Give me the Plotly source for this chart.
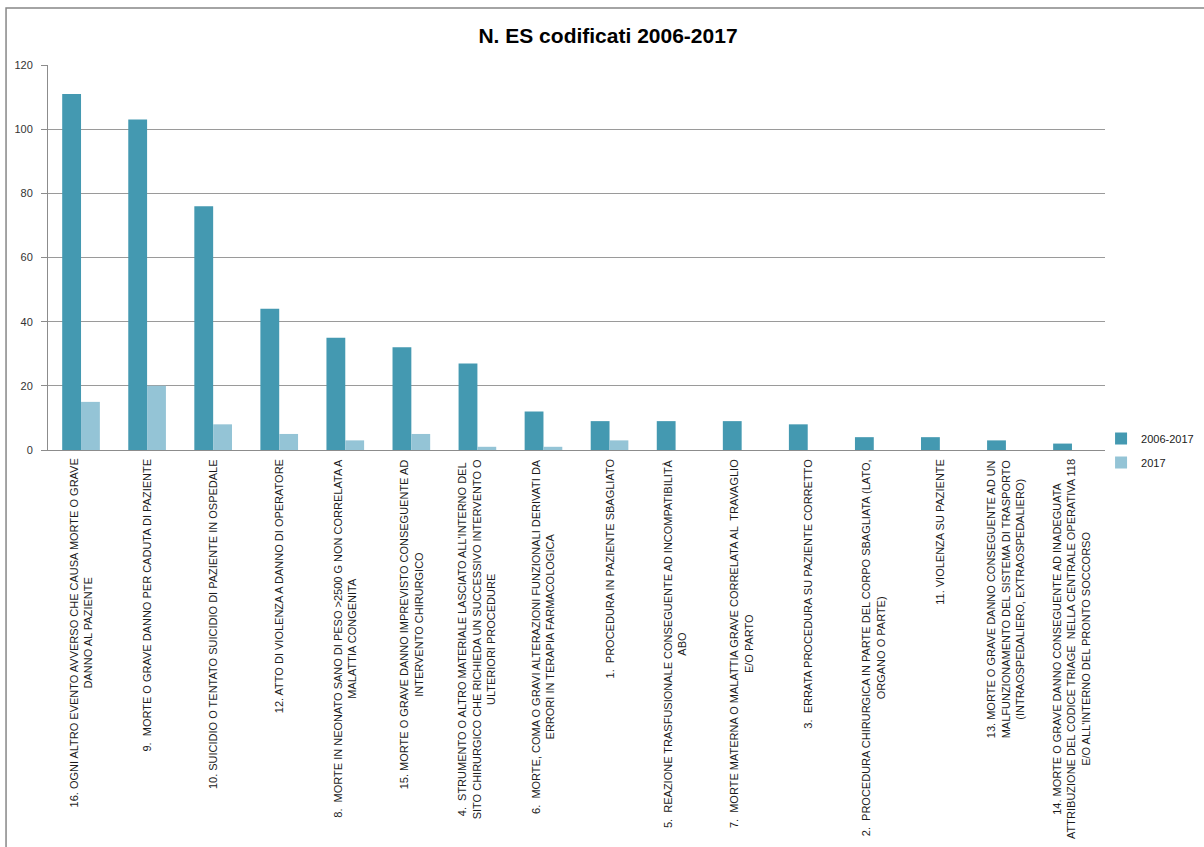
import plotly.graph_objects as go

# Event categories (sentinel events), in display order
categories = [
    "16. OGNI ALTRO EVENTO AVVERSO CHE CAUSA MORTE O GRAVE<br>DANNO AL PAZIENTE",
    "9.  MORTE O GRAVE DANNO PER CADUTA DI PAZIENTE",
    "10. SUICIDIO O TENTATO SUICIDIO DI PAZIENTE IN OSPEDALE",
    "12. ATTO DI VIOLENZA A DANNO DI OPERATORE",
    "8.  MORTE IN NEONATO SANO DI PESO >2500 G NON CORRELATA A<br>MALATTIA CONGENITA",
    "15. MORTE O GRAVE DANNO IMPREVISTO CONSEGUENTE AD<br>INTERVENTO CHIRURGICO",
    "4.  STRUMENTO O ALTRO MATERIALE LASCIATO ALL'INTERNO DEL<br>SITO CHIRURGICO CHE RICHIEDA UN SUCCESSIVO INTERVENTO O<br>ULTERIORI PROCEDURE",
    "6.  MORTE, COMA O GRAVI ALTERAZIONI FUNZIONALI DERIVATI DA<br>ERRORI IN TERAPIA FARMACOLOGICA",
    "1.  PROCEDURA IN PAZIENTE SBAGLIATO",
    "5.  REAZIONE TRASFUSIONALE CONSEGUENTE AD INCOMPATIBILITÀ<br>ABO",
    "7.  MORTE MATERNA O MALATTIA GRAVE CORRELATA AL  TRAVAGLIO<br>E/O PARTO",
    "3.  ERRATA PROCEDURA SU PAZIENTE CORRETTO",
    "2.  PROCEDURA CHIRURGICA IN PARTE DEL CORPO SBAGLIATA (LATO,<br>ORGANO O PARTE)",
    "11. VIOLENZA SU PAZIENTE",
    "13. MORTE O GRAVE DANNO CONSEGUENTE AD UN<br>MALFUNZIONAMENTO DEL SISTEMA DI TRASPORTO<br>(INTRAOSPEDALIERO, EXTRAOSPEDALIERO)",
    "14. MORTE O GRAVE DANNO CONSEGUENTE AD INADEGUATA<br>ATTRIBUZIONE DEL CODICE TRIAGE  NELLA CENTRALE OPERATIVA 118<br>E/O ALL'INTERNO DEL PRONTO SOCCORSO",
]

# Number of coded events per category
es_2006_2017 = [111, 103, 76, 44, 35, 32, 27, 12, 9, 9, 9, 8, 4, 4, 3, 2]
es_2017 = [15, 20, 8, 5, 3, 5, 1, 1, 3, 0, 0, 0, 0, 0, 0, 0]

series_names = ["2006-2017", "2017"]
y_ticks = [0, 20, 40, 60, 80, 100, 120]

DARK = "#4499B1"
LIGHT = "#94C4D6"
FONT = "Liberation Sans"

fig = go.Figure()
fig.add_trace(go.Bar(x=categories, y=es_2006_2017, name=series_names[0],
                     marker=dict(color=DARK, line=dict(width=0)),
                     legendgroup="a"))
fig.add_trace(go.Bar(x=categories, y=es_2017, name=series_names[1],
                     marker=dict(color=LIGHT, line=dict(width=0)),
                     legendgroup="b"))

# Category labels: rotated, lines centred, top edge just below the axis
for cat in categories:
    fig.add_annotation(
        x=cat, xref="x", y=-0.018, yref="paper",
        text=cat, textangle=-90, showarrow=False,
        xanchor="center", yanchor="top", align="center",
        font=dict(family=FONT, size=11.0, color="#1a1a1a"),
    )

# Outer chart frame
fig.add_shape(type="rect", xref="paper", yref="paper",
              x0=-0.0397, x1=1.2, y0=-1.2, y1=1.148,
              line=dict(color="#878787", width=1.5), fillcolor="rgba(0,0,0,0)",
              layer="below")

fig.update_layout(
    width=1204, height=847,
    margin=dict(l=48, r=99, t=65, b=397, autoexpand=False),
    paper_bgcolor="white", plot_bgcolor="white",
    barmode="group", bargap=0.43, bargroupgap=0,
    title=dict(text="<b>N. ES codificati 2006-2017</b>",
               x=0.505, xref="container", xanchor="center",
               y=0.958, yref="container", yanchor="middle",
               font=dict(family=FONT, size=21, color="#000000")),
    legend=dict(x=0.9145, xref="container", xanchor="left",
                y=0.4994, yref="container", yanchor="top",
                font=dict(family=FONT, size=11, color="#1a1a1a"),
                tracegroupgap=5, itemwidth=30,
                bgcolor="rgba(0,0,0,0)"),
    showlegend=True,
    xaxis=dict(showticklabels=False, showline=True, linecolor="#8c8c8c",
               linewidth=1, ticks="", showgrid=False, fixedrange=True),
    yaxis=dict(range=[0, 120], tickvals=y_ticks, ticks="outside", ticklen=6,
               tickcolor="#8c8c8c", showline=True, linecolor="#8c8c8c",
               linewidth=1, showgrid=True, gridcolor="#9a9a9a", gridwidth=1,
               zeroline=False, ticklabelstandoff=6,
               tickfont=dict(family=FONT, size=11, color="#333333")),
)

fig.write_html("out.html")
